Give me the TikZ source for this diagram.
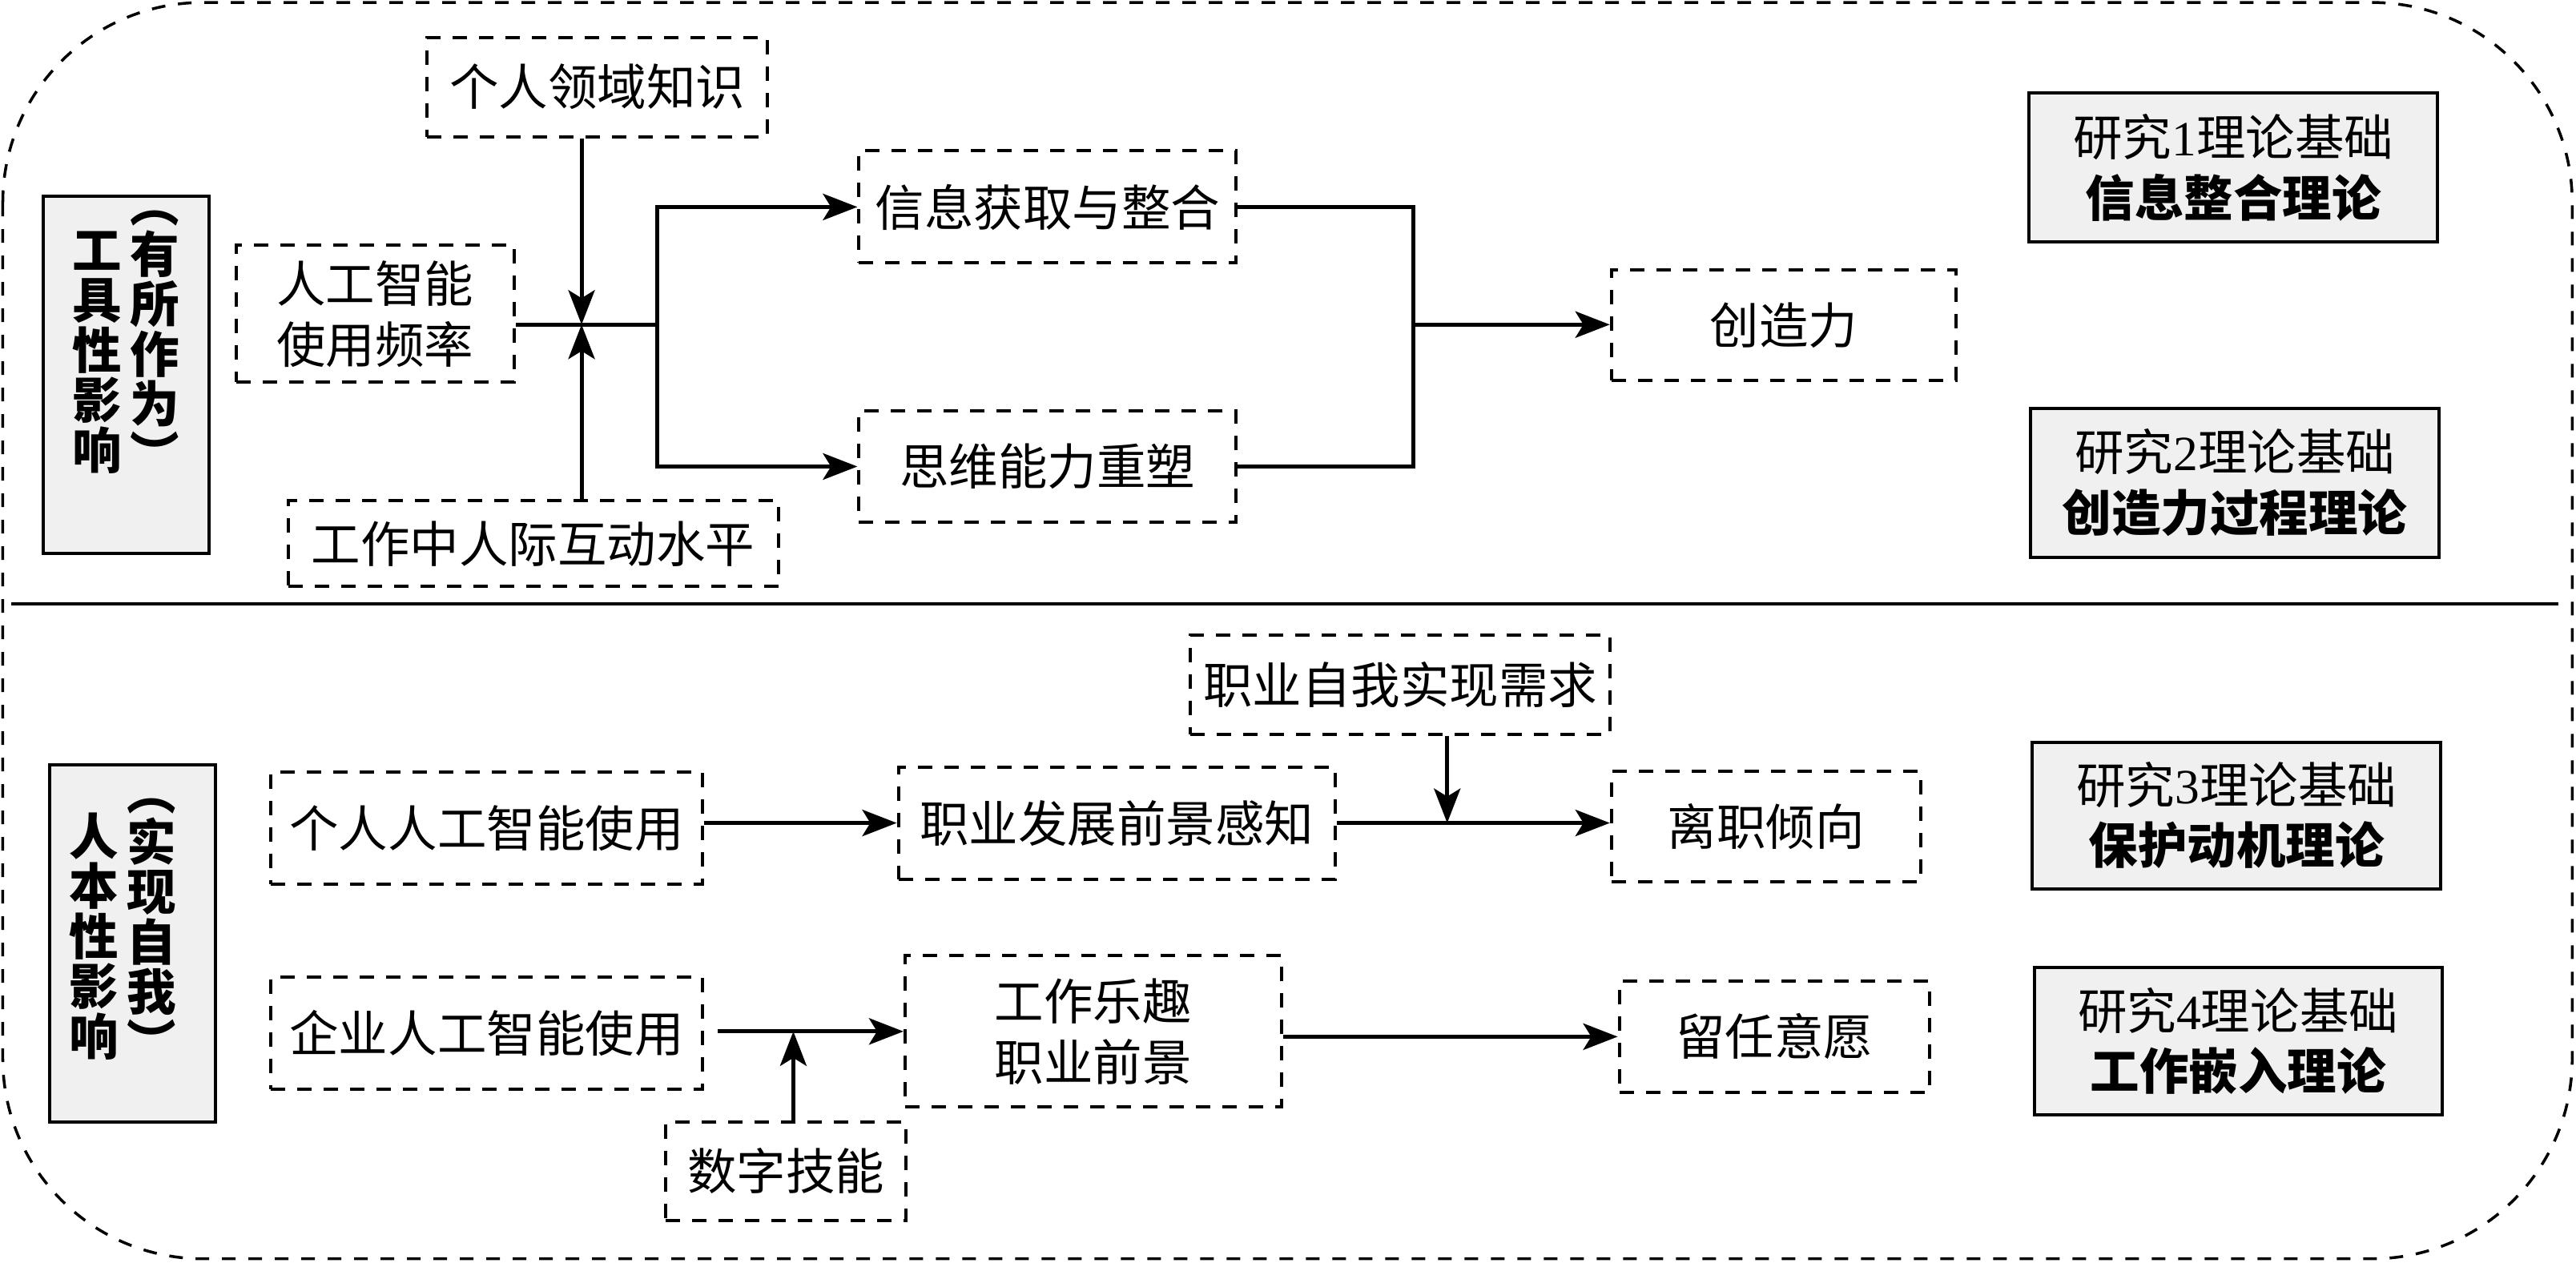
\documentclass[tikz,border=0pt]{standalone}
\usepackage{fontspec}
\setmainfont{Noto Sans CJK SC}
\newfontfamily\latin{Liberation Serif}
\usetikzlibrary{arrows.meta}
\definecolor{boxgray}{RGB}{240,240,240}

\begin{document}
\begin{tikzpicture}[
    x=0.2051mm, y=-0.2051mm,
    every node/.style={font=\fontsize{17.5pt}{21.5pt}\selectfont},
    dbox/.style={draw, line width=1.15pt, dash pattern=on 1.8mm off 1.5mm, align=center, inner sep=0pt},
    gbox/.style={draw, line width=1.15pt, fill=boxgray, align=center, inner sep=0pt},
    vtext/.style={font=\fontsize{17.5pt}{17.8pt}\selectfont\bfseries, align=center, inner sep=0pt},
    arrow/.style={-{Stealth[length=4.3mm, width=3.3mm, inset=1mm]}, line width=1.4pt},
    line/.style={line width=1.4pt}
]
\useasboundingbox (0,0) rectangle (1568,768.4);

% Frame and separator
\draw[line width=1pt, dash pattern=on 1.7mm off 1.6mm, rounded corners=25mm] (1.7,1.5) rectangle (1565.7,766.3);
\draw[line width=1.15pt] (7,367.5) -- (1557.4,367.5);

% Instrumental influence
\node[gbox, minimum width=20.7mm, minimum height=44.6mm] (tool) at (76.8,228) {};
\node[vtext] (toolA) at (59,214.5) {工\\具\\性\\影\\响};
\node[vtext] (toolB) at (94,208) {︵\\有\\所\\作\\为\\︶};

\node[dbox, minimum width=42.5mm, minimum height=12.4mm] (know) at (363.5,53) {个人领域知识};
\node[dbox, minimum width=34.7mm, minimum height=17.1mm] (freq) at (228.3,191.1) {人工智能\\使用频率};
\node[dbox, minimum width=61.2mm, minimum height=10.7mm] (inter) at (324.5,330.9) {工作中人际互动水平};
\node[dbox, minimum width=47.1mm, minimum height=14mm] (info) at (637.7,126) {信息获取与整合};
\node[dbox, minimum width=47.1mm, minimum height=13.9mm] (think) at (637.7,284) {思维能力重塑};
\node[dbox, minimum width=43mm, minimum height=13.8mm] (crea) at (1085.7,198) {创造力};
\node[gbox, minimum width=51mm, minimum height=18.6mm] (theo1) at (1359.5,102) {研究{\latin 1}理论基础\\\textbf{信息整合理论}};
\node[gbox, minimum width=51mm, minimum height=18.6mm] (theo2) at (1360.4,293.9) {研究{\latin 2}理论基础\\\textbf{创造力过程理论}};

\coordinate (mod1) at (354,197.6);
\coordinate (split) at (400,197.6);
\coordinate (merge) at (860.4,197.6);

\draw[line] (freq.east |- split) -- (split);
\draw[arrow] (know.south -| mod1) -- (mod1);
\draw[arrow] (inter.north -| mod1) -- (mod1);
\draw[arrow] (split) |- (info.west);
\draw[arrow] (split) |- (think.west);
\draw[line] (info.east) -| (merge);
\draw[line] (think.east) -| (merge);
\draw[arrow] (merge) -- (merge -| crea.west);

% Human-centred influence
\node[gbox, minimum width=20.7mm, minimum height=44.6mm] (human) at (80.5,574.3) {};
\node[vtext] (humanA) at (57.3,570) {人\\本\\性\\影\\响};
\node[vtext] (humanB) at (92.3,566) {︵\\实\\现\\自\\我\\︶};

\node[dbox, minimum width=53.9mm, minimum height=14mm] (pers) at (296.2,504) {个人人工智能使用};
\node[dbox, minimum width=54.5mm, minimum height=14mm] (prosp) at (679.7,501) {职业发展前景感知};
\node[dbox, minimum width=52.4mm, minimum height=12.4mm] (need) at (852.3,417) {职业自我实现需求};
\node[dbox, minimum width=38.6mm, minimum height=13.8mm] (quit) at (1075,503.2) {离职倾向};
\node[gbox, minimum width=51mm, minimum height=18.3mm] (theo3) at (1361.4,496.4) {研究{\latin 3}理论基础\\\textbf{保护动机理论}};
\node[dbox, minimum width=53.9mm, minimum height=14mm] (firm) at (296.2,628.8) {企业人工智能使用};
\node[dbox, minimum width=47mm, minimum height=18.9mm] (fun) at (665.5,627.9) {工作乐趣\\职业前景};
\node[dbox, minimum width=30mm, minimum height=12.3mm] (skill) at (478.5,713) {数字技能};
\node[dbox, minimum width=38.7mm, minimum height=13.9mm] (stay) at (1080,631.1) {留任意愿};
\node[gbox, minimum width=50.9mm, minimum height=18.4mm] (theo4) at (1362.3,633.8) {研究{\latin 4}理论基础\\\textbf{工作嵌入理论}};

\coordinate (mod2) at (880.9,501);
\coordinate (mod3) at (482.9,627.9);

\draw[arrow] (pers.east |- prosp.west) -- (prosp.west);
\draw[arrow] (prosp.east) -- (prosp.east -| quit.west);
\draw[arrow] (need.south -| mod2) -- (mod2);
\draw[arrow, shorten <=1.7mm] (firm.east |- fun.west) -- (fun.west);
\draw[arrow] (skill.north -| mod3) -- (mod3);
\draw[arrow] (fun.east |- stay.west) -- (stay.west);

\end{tikzpicture}
\end{document}
